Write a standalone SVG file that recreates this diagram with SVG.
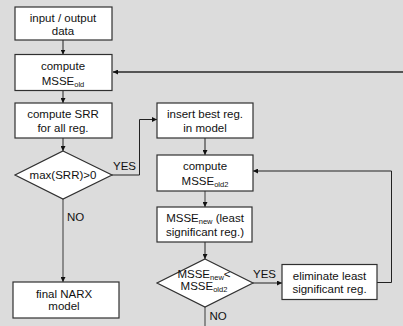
<svg xmlns="http://www.w3.org/2000/svg" width="403" height="326" viewBox="0 0 403 326">
  <style>
    .box { fill: #ffffff; stroke: #303030; stroke-width: 1.2; }
    .t { font-family: "Liberation Sans", Arial, sans-serif; font-size: 11.5px; fill: #111; text-anchor: middle; }
    .lbl { font-family: "Liberation Sans", Arial, sans-serif; font-size: 11.5px; fill: #111; }
    .sub { font-size: 7.5px; }
    .ln { fill: none; stroke: #222; stroke-width: 1; }
    .ln-g { fill: none; stroke: #777; stroke-width: 1.6; }
    .ln-top { fill: none; stroke: #555; stroke-width: 2; }
  </style>
  <defs>
    <marker id="arr" viewBox="0 0 10 10" refX="10" refY="5" markerWidth="5" markerHeight="5" markerUnits="userSpaceOnUse" orient="auto">
      <path d="M0,0 L10,5 L0,10 z" fill="#111"/>
    </marker>
  </defs>
  <rect width="403" height="326" fill="#dcdcdc"/>

  <g id="connectors">
    <path class="ln" d="M63,40 V54.5" marker-end="url(#arr)"/>
    <path class="ln" d="M63,90.5 V103" marker-end="url(#arr)"/>
    <path class="ln" d="M63,138 V151" marker-end="url(#arr)"/>
    <path class="ln-g" d="M63,199 V282" marker-end="url(#arr)"/>
    <path class="ln" d="M112,175 H139.5 V119.5 H157" marker-end="url(#arr)"/>
    <path class="ln" d="M205,138 V155" marker-end="url(#arr)"/>
    <path class="ln-g" d="M205,191 V207" marker-end="url(#arr)"/>
    <path class="ln" d="M205,242 V259" marker-end="url(#arr)"/>
    <path class="ln" d="M253,283 H282" marker-end="url(#arr)"/>
    <path class="ln" d="M377,282.5 H391.5 V171 H253" marker-end="url(#arr)"/>
    <path class="ln-g" d="M205,307 V326"/>
    <path class="ln-top" d="M403,72 H113" marker-end="url(#arr)"/>
    <text class="lbl" x="113" y="170">YES</text>
    <text class="lbl" x="67" y="221">NO</text>
    <text class="lbl" x="253" y="278">YES</text>
    <text class="lbl" x="209.5" y="320">NO</text>
  </g>

  <g id="io-data">
    <rect class="box" x="15" y="7" width="97" height="33"/>
    <text class="t" x="63" y="21.5">input / output</text>
    <text class="t" x="63" y="35">data</text>
  </g>

  <g id="compute-msse-old">
    <rect class="box" x="15" y="54.5" width="97" height="36"/>
    <text class="t" x="63" y="69.5">compute</text>
    <text class="t" x="63" y="85">MSSE<tspan class="sub" dy="2">old</tspan></text>
  </g>

  <g id="compute-srr">
    <rect class="box" x="15" y="103" width="97" height="35"/>
    <text class="t" x="63" y="118">compute SRR</text>
    <text class="t" x="63" y="132">for all reg.</text>
  </g>

  <g id="max-srr">
    <polygon class="box" points="63,151 112,175 63,199 15,175"/>
    <text class="t" x="63" y="179">max(SRR)&gt;0</text>
  </g>

  <g id="final-narx">
    <rect class="box" x="13" y="282" width="106" height="36"/>
    <text class="t" x="64" y="297.5">final NARX</text>
    <text class="t" x="64" y="310">model</text>
  </g>

  <g id="insert-best">
    <rect class="box" x="157" y="103" width="96" height="35"/>
    <text class="t" x="205" y="117.5">insert best reg.</text>
    <text class="t" x="205" y="131.5">in model</text>
  </g>

  <g id="compute-msse-old2">
    <rect class="box" x="157" y="155" width="96" height="36"/>
    <text class="t" x="205" y="170">compute</text>
    <text class="t" x="205" y="184.5">MSSE<tspan class="sub" dy="2">old2</tspan></text>
  </g>

  <g id="msse-new">
    <rect class="box" x="157" y="207" width="95" height="35"/>
    <text class="t" x="205" y="221.5">MSSE<tspan class="sub" dy="2">new</tspan><tspan dy="-2"> (least</tspan></text>
    <text class="t" x="205" y="235.5">significant reg.)</text>
  </g>

  <g id="msse-compare">
    <polygon class="box" points="205,259 253,283 205,307 157,283"/>
    <text class="t" x="204" y="277.5">MSSE<tspan class="sub" dy="2">new</tspan><tspan dy="-2">&lt;</tspan></text>
    <text class="t" x="204" y="290">MSSE<tspan class="sub" dy="2">old2</tspan></text>
  </g>

  <g id="eliminate">
    <rect class="box" x="282" y="264.5" width="95" height="35"/>
    <text class="t" x="329.5" y="280">eliminate least</text>
    <text class="t" x="329.5" y="293">significant reg.</text>
  </g>
</svg>
